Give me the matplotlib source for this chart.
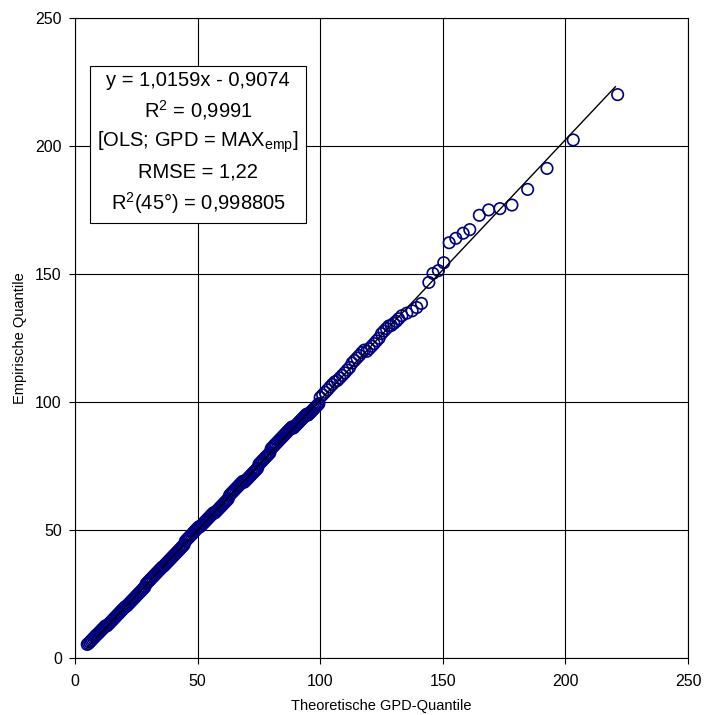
import numpy as np
import matplotlib
matplotlib.use("Agg")
import matplotlib.pyplot as plt

plt.rcParams['font.family'] = ['Liberation Sans', 'DejaVu Sans']
plt.rcParams['mathtext.fontset'] = 'custom'
plt.rcParams['mathtext.rm'] = 'Liberation Sans'
plt.rcParams['mathtext.it'] = 'Liberation Sans:italic'

# Theoretische GPD-Quantile (x) und empirische Quantile (y)
theo = [5.0, 5.5, 6.0, 6.5, 7.0, 7.5, 8.0, 8.5, 9.0, 9.5, 10.0, 10.5, 11.0, 11.5, 12.0, 12.5,
        13.0, 13.5, 14.0, 14.5, 15.0, 15.5, 16.0, 16.5, 17.0, 17.5, 18.0, 18.5, 19.0, 19.5, 20.0, 20.5,
        21.0, 21.5, 22.0, 22.5, 23.0, 23.5, 24.0, 24.5, 25.0, 25.5, 26.0, 26.5, 27.0, 27.5, 28.0, 28.5,
        29.0, 29.5, 30.0, 30.5, 31.0, 31.5, 32.0, 32.5, 33.0, 33.5, 34.0, 34.5, 35.0, 35.5,
        36.0, 36.5, 37.0, 37.5, 38.0, 38.5, 39.0, 39.5, 40.0, 40.5, 41.0, 41.5, 42.0, 42.5, 43.0, 43.5, 44.0, 44.5,
        45.0, 45.5, 46.0, 46.5, 47.0, 47.5, 48.0, 48.5, 49.0, 49.5, 50.0, 50.5,
        51.0, 51.5, 52.0, 52.5, 53.0, 53.5, 54.0, 54.5, 55.0, 55.5, 56.0, 56.5,
        57.0, 57.5, 58.0, 58.5, 59.0, 59.5, 60.0, 60.5, 61.0, 61.5, 62.0, 62.5,
        63.0, 63.5, 64.0, 64.5, 65.0, 65.5, 66.0, 66.5, 67.0, 67.5, 68.0, 68.5,
        69.0, 69.5, 70.0, 70.5, 71.0, 71.5, 72.0, 72.5, 73.0, 73.5, 74.0, 74.5,
        75.0, 75.5, 76.0, 76.5, 77.0, 77.5, 78.0, 78.5, 79.0, 79.5,
        80.0, 80.5, 81.0, 81.5, 82.0, 82.5, 83.0, 83.5, 84.0, 84.5, 85.0, 85.5, 86.0, 86.5, 87.0, 87.5, 88.0, 88.5,
        89.0, 89.5, 90.0, 90.5, 91.0, 91.5, 92.0, 92.5, 93.0, 93.5, 94.0, 94.5,
        95.0, 95.5, 96.0, 96.5, 97.0, 97.5, 98.0, 98.5, 99.0, 99.5,
        100, 101, 102, 103, 104, 105, 106, 107, 108, 109, 110, 111, 112,
        113, 114, 115, 116, 117, 118, 119, 120, 121, 122, 123, 124,
        125, 126, 127, 128, 129, 130, 131, 132,
        133.3, 135.3, 137.5, 139.4, 141.3, 144.3, 146.0, 148.2, 150.4,
        152.6, 155.3, 158.3, 161.0, 164.9, 168.7, 173.3, 178.2, 184.6,
        192.5, 203.2, 221.3]
emp = [5.3, 5.7, 6.2, 6.7, 7.2, 7.7, 8.2, 8.7, 9.2, 9.6, 10.1, 10.6, 11.1, 11.6, 12.1, 12.6,
       12.5, 13.0, 13.5, 14.0, 14.5, 15.0, 15.5, 16.0, 16.5, 17.0, 17.5, 18.0, 18.5, 19.0, 19.5, 20.0,
       20.2, 20.7, 21.2, 21.7, 22.2, 22.7, 23.2, 23.7, 24.2, 24.7, 25.2, 25.7, 26.2, 26.7, 27.2, 27.7,
       28.9, 29.4, 29.9, 30.4, 30.9, 31.4, 31.9, 32.4, 32.9, 33.4, 33.9, 34.4, 34.9, 35.4,
       35.7, 36.2, 36.7, 37.2, 37.7, 38.2, 38.7, 39.2, 39.7, 40.2, 40.7, 41.2, 41.7, 42.2, 42.7, 43.2, 43.7, 44.2,
       45.6, 46.1, 46.6, 47.1, 47.6, 48.1, 48.6, 49.2, 49.7, 50.2, 50.7, 51.2,
       51.2, 51.7, 52.2, 52.7, 53.2, 53.7, 54.2, 54.7, 55.2, 55.7, 56.2, 56.7,
       56.6, 57.1, 57.6, 58.1, 58.6, 59.1, 59.6, 60.1, 60.6, 61.1, 61.6, 62.1,
       63.5, 64.0, 64.5, 65.0, 65.5, 66.0, 66.5, 67.0, 67.5, 68.0, 68.5, 69.0,
       68.6, 69.1, 69.6, 70.1, 70.6, 71.1, 71.6, 72.1, 72.6, 73.1, 73.6, 74.1,
       75.6, 76.1, 76.6, 77.1, 77.6, 78.1, 78.6, 79.1, 79.6, 80.1,
       81.7, 82.2, 82.7, 83.2, 83.7, 84.2, 84.7, 85.2, 85.7, 86.2, 86.7, 87.2, 87.7, 88.2, 88.7, 89.2, 89.7, 90.2,
       89.7, 90.2, 90.7, 91.2, 91.7, 92.2, 92.7, 93.2, 93.7, 94.2, 94.7, 95.2,
       94.8, 95.3, 95.8, 96.3, 96.8, 97.3, 97.8, 98.3, 98.8, 99.3,
       101.7, 102.7, 103.7, 104.7, 105.8, 106.8, 107.8, 108.3, 109.3, 110.3, 111.3, 112.4, 113.4,
       115.1, 116.1, 117.1, 118.1, 119.2, 120.2, 119.7, 120.7, 121.7, 122.7, 123.8, 124.8,
       126.6, 127.6, 128.6, 129.6, 129.8, 130.6, 131.4, 132.4,
       133.6, 134.6, 135.5, 136.8, 138.4, 146.6, 150.1, 151.2, 154.3,
       162.1, 163.8, 165.8, 167.2, 172.8, 174.9, 175.4, 176.8, 182.9,
       191.1, 202.2, 219.9]

slope, intercept = 1.0159, -0.9074
ticks = [0, 50, 100, 150, 200, 250]

fig = plt.figure(figsize=(7.06, 7.15), dpi=100)
ax = fig.add_axes([75 / 706, 1 - 658 / 715, 613 / 706, 640.5 / 715])

ax.scatter(theo, emp, s=68, facecolors='none', edgecolors='#000080', linewidths=1.2, zorder=3)
xl = np.array([min(theo), 220.4])
ax.plot(xl, slope * xl + intercept, color='black', lw=1.0, zorder=4)

ax.set_xlim(0, 250)
ax.set_ylim(0, 250)
ax.set_xticks(ticks)
ax.set_yticks(ticks)
ax.grid(True, color='black', lw=0.8)
ax.set_axisbelow(True)
ax.tick_params(direction='out', length=4.5, width=0.8, labelsize=11.5)
ax.tick_params(axis='x', pad=7)
ax.tick_params(axis='y', pad=5)
for s in ax.spines.values():
    s.set_linewidth(0.8)

ax.set_xlabel('Theoretische GPD-Quantile', fontsize=10.5, labelpad=7)
ax.set_ylabel('Empirische Quantile', fontsize=10.5, labelpad=6)

txt = ('y = 1,0159x - 0,9074\n'
       'R$^2$ = 0,9991\n'
       '[OLS; GPD = MAX$_{\\mathrm{emp}}$]\n'
       'RMSE = 1,22\n'
       'R$^2$(45°) = 0,998805')
ax.text(50.2, 200.9, txt, ha='center', va='center', fontsize=14.5, linespacing=1.45,
        bbox=dict(facecolor='white', edgecolor='black', lw=0.8, pad=5), zorder=5)

fig.savefig('out.png', dpi=100)
